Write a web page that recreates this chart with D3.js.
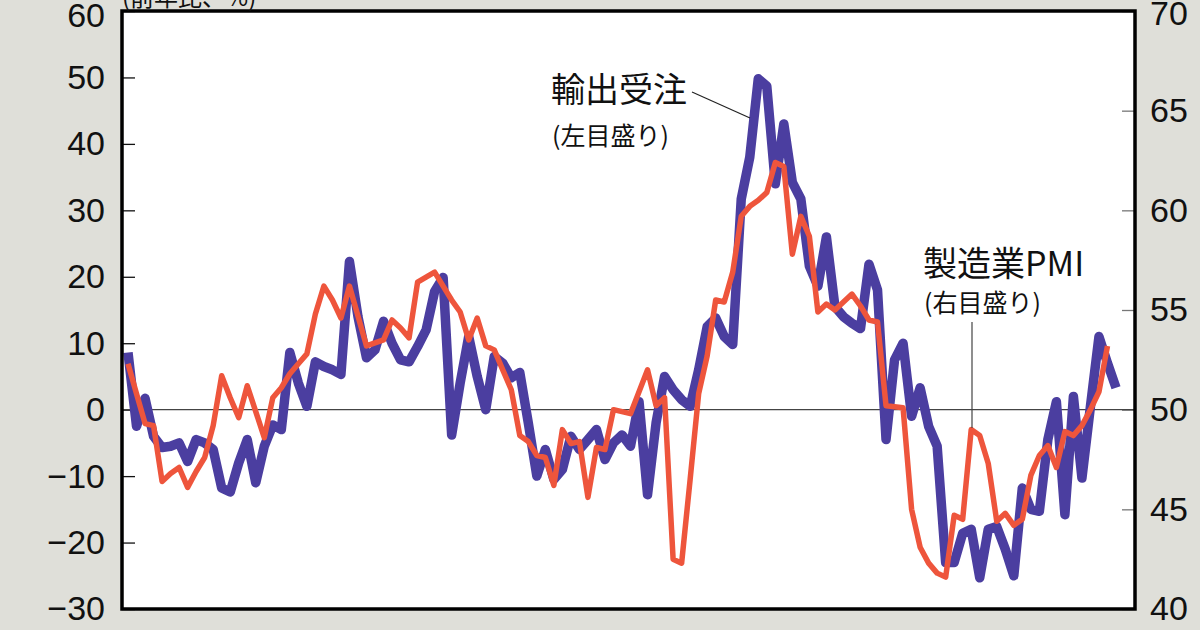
<!DOCTYPE html>
<html><head><meta charset="utf-8">
<script src="https://cdn.jsdelivr.net/npm/d3@7"></script>
<style>body{margin:0;background:#dfdfd9;} svg{display:block;}</style>
</head><body><svg id="c" width="1200" height="630"></svg>
<script>
// 輸出受注（前年比、%）左目盛り — monthly
const exportOrders = [8.6,-2.5,1.7,-4,-5.7,-5.5,-5,-7.8,-4.5,-5,
 -6,-11.8,-12.4,-8,-4.5,-11,-5.5,-2.3,-3,8.6,
 4,0.5,7.2,6.5,6,5.3,22.3,14,7.8,9,
 13.3,10,7.5,7.2,9.5,12,17.8,19.9,-3.8,4,
 11,5,0,8,7,4.8,5.6,-2,-10,-6,
 -10.5,-9,-4,-6,-4.5,-3,-7.5,-5,-3.8,-5.5,
 1.2,-12.8,-2,5,3,1.5,0.5,6,12.5,13.8,
 11,9.8,31.7,38,49.8,48.7,34,43,34.2,31.7,
 21.6,18.6,26,15.5,14,13,12.2,21.9,18,-4.5,
 7.5,10,-1,3.3,-2.5,-5.5,-23,-23,-18.6,-18,
 -25.3,-18,-17.6,-21,-25,-11.8,-15,-15.3,-4.5,1.2,
 -15.8,2,-10.3,0.5,11,7,3.3];
// 製造業PMI 右目盛り — monthly
const pmi = [52.3,50.8,49.3,49.2,46.4,46.8,47.1,46.1,46.9,47.6,
 49.2,51.7,50.6,49.6,51.2,49.9,48.6,50.6,51.1,51.8,
 52.3,52.8,54.8,56.2,55.5,54.6,56.2,54.7,53.2,53.35,
 53.5,54.5,54.1,53.6,56.4,56.65,56.9,56.2,55.5,54.9,
 53.5,54.6,53.2,53.0,52.0,51.0,48.7,48.4,47.7,47.6,
 46.2,49,48.3,48.4,45.6,48.1,48,50,49.9,49.8,
 50.9,52.0,50.2,50.6,42.5,42.3,46.5,50.8,52.7,55.5,
 55.4,56.9,59.7,60.2,60.5,60.9,62.4,62.2,57.8,59.7,
 58.7,54.9,55.3,55,55.4,55.8,55.2,54.5,54.4,50.2,
 50.15,50.1,45,43.1,42.3,41.8,41.6,44.7,44.5,49,
 48.7,47.3,44.4,44.8,44.2,44.5,46.7,47.7,48.2,47.1,
 48.9,48.7,49.2,50,50.9,53.2];
const leftTicks = [-30,-20,-10,0,10,20,30,40,50,60];
const rightTicks = [40,45,50,55,60,65,70];
const unitLabel = "(前年比、%)";
const exportLabel = "輸出受注", exportSub = "(左目盛り)";
const pmiLabel = "製造業PMI", pmiSub = "(右目盛り)";

const W = 1200, H = 630;
const plot = {left:122, right:1135, top:11, bottom:609};
const svg = d3.select("#c");
svg.append("rect").attr("width", W).attr("height", H).attr("fill", "#dfdfd9");
svg.append("rect").attr("x", plot.left).attr("y", plot.top)
  .attr("width", plot.right - plot.left).attr("height", plot.bottom - plot.top).attr("fill", "#fff");

const x = d3.scaleLinear().domain([0, exportOrders.length - 1]).range([128, 1116]);
const yL = d3.scaleLinear().domain([-30, 60]).range([plot.bottom, plot.top]);
const yR = d3.scaleLinear().domain([40, 70]).range([plot.bottom, plot.top]);
const fmt = d => d < 0 ? "\u2212" + Math.abs(d) : String(d);

// axes
const gl = svg.append("g").attr("transform", `translate(${plot.left},0)`)
  .call(d3.axisLeft(yL).tickValues(leftTicks).tickSize(-13).tickPadding(17).tickFormat(fmt));
gl.select(".domain").remove();
gl.selectAll(".tick line").attr("stroke", "#111").attr("stroke-width", 1.3);
gl.selectAll(".tick text").attr("font-family", "Liberation Sans, Arial, sans-serif")
  .attr("font-size", 34).attr("fill", "#111")
  .attr("y", d => d === 60 ? 5 : 0);

const gr = svg.append("g").attr("transform", `translate(${plot.right},0)`)
  .call(d3.axisRight(yR).tickValues(rightTicks).tickSize(-13).tickPadding(15).tickFormat(fmt));
gr.select(".domain").remove();
gr.selectAll(".tick line").attr("stroke", "#777").attr("stroke-width", 1.3);
gr.selectAll(".tick text").attr("font-family", "Liberation Sans, Arial, sans-serif")
  .attr("font-size", 34).attr("fill", "#111")
  .attr("y", d => d === 70 ? 3 : 0);

// zero line
svg.append("line").attr("x1", plot.left).attr("x2", plot.right)
  .attr("y1", yL(0)).attr("y2", yL(0)).attr("stroke", "#444").attr("stroke-width", 1.3);

// series
const lineL = d3.line().x((d, i) => x(i)).y(d => yL(d));
const lineR = d3.line().x((d, i) => x(i)).y(d => yR(d));
svg.append("path").datum(exportOrders).attr("d", lineL)
  .attr("fill", "none").attr("stroke", "#4b3ea0").attr("stroke-width", 9.5)
  .attr("stroke-linejoin", "round");
svg.append("path").datum(pmi).attr("d", lineR)
  .attr("fill", "none").attr("stroke", "#ee553c").attr("stroke-width", 5.5)
  .attr("stroke-linejoin", "round");

// frame
svg.append("rect").attr("x", plot.left).attr("y", plot.top)
  .attr("width", plot.right - plot.left).attr("height", plot.bottom - plot.top)
  .attr("fill", "none").attr("stroke", "#000").attr("stroke-width", 3.5);

// annotations
const jp = "Noto Sans CJK JP, sans-serif";
svg.append("text").attr("x", 122).attr("y", 6).attr("font-family", jp).attr("font-size", 24)
  .attr("fill", "#111").text(unitLabel);
svg.append("text").attr("x", 551).attr("y", 102).attr("font-family", jp).attr("font-size", 34)
  .attr("fill", "#111").text(exportLabel);
svg.append("text").attr("x", 552).attr("y", 145).attr("font-family", jp).attr("font-size", 25)
  .attr("fill", "#111").text(exportSub);
svg.append("line").attr("x1", 692).attr("y1", 92).attr("x2", 750).attr("y2", 118)
  .attr("stroke", "#222").attr("stroke-width", 1.2);
svg.append("text").attr("x", 923).attr("y", 276).attr("font-family", jp).attr("font-size", 34)
  .attr("fill", "#111").text(pmiLabel);
svg.append("text").attr("x", 924).attr("y", 312).attr("font-family", jp).attr("font-size", 25)
  .attr("fill", "#111").text(pmiSub);
svg.append("line").attr("x1", 972).attr("y1", 322).attr("x2", 972).attr("y2", 428)
  .attr("stroke", "#444").attr("stroke-width", 1.2);
</script></body></html>
